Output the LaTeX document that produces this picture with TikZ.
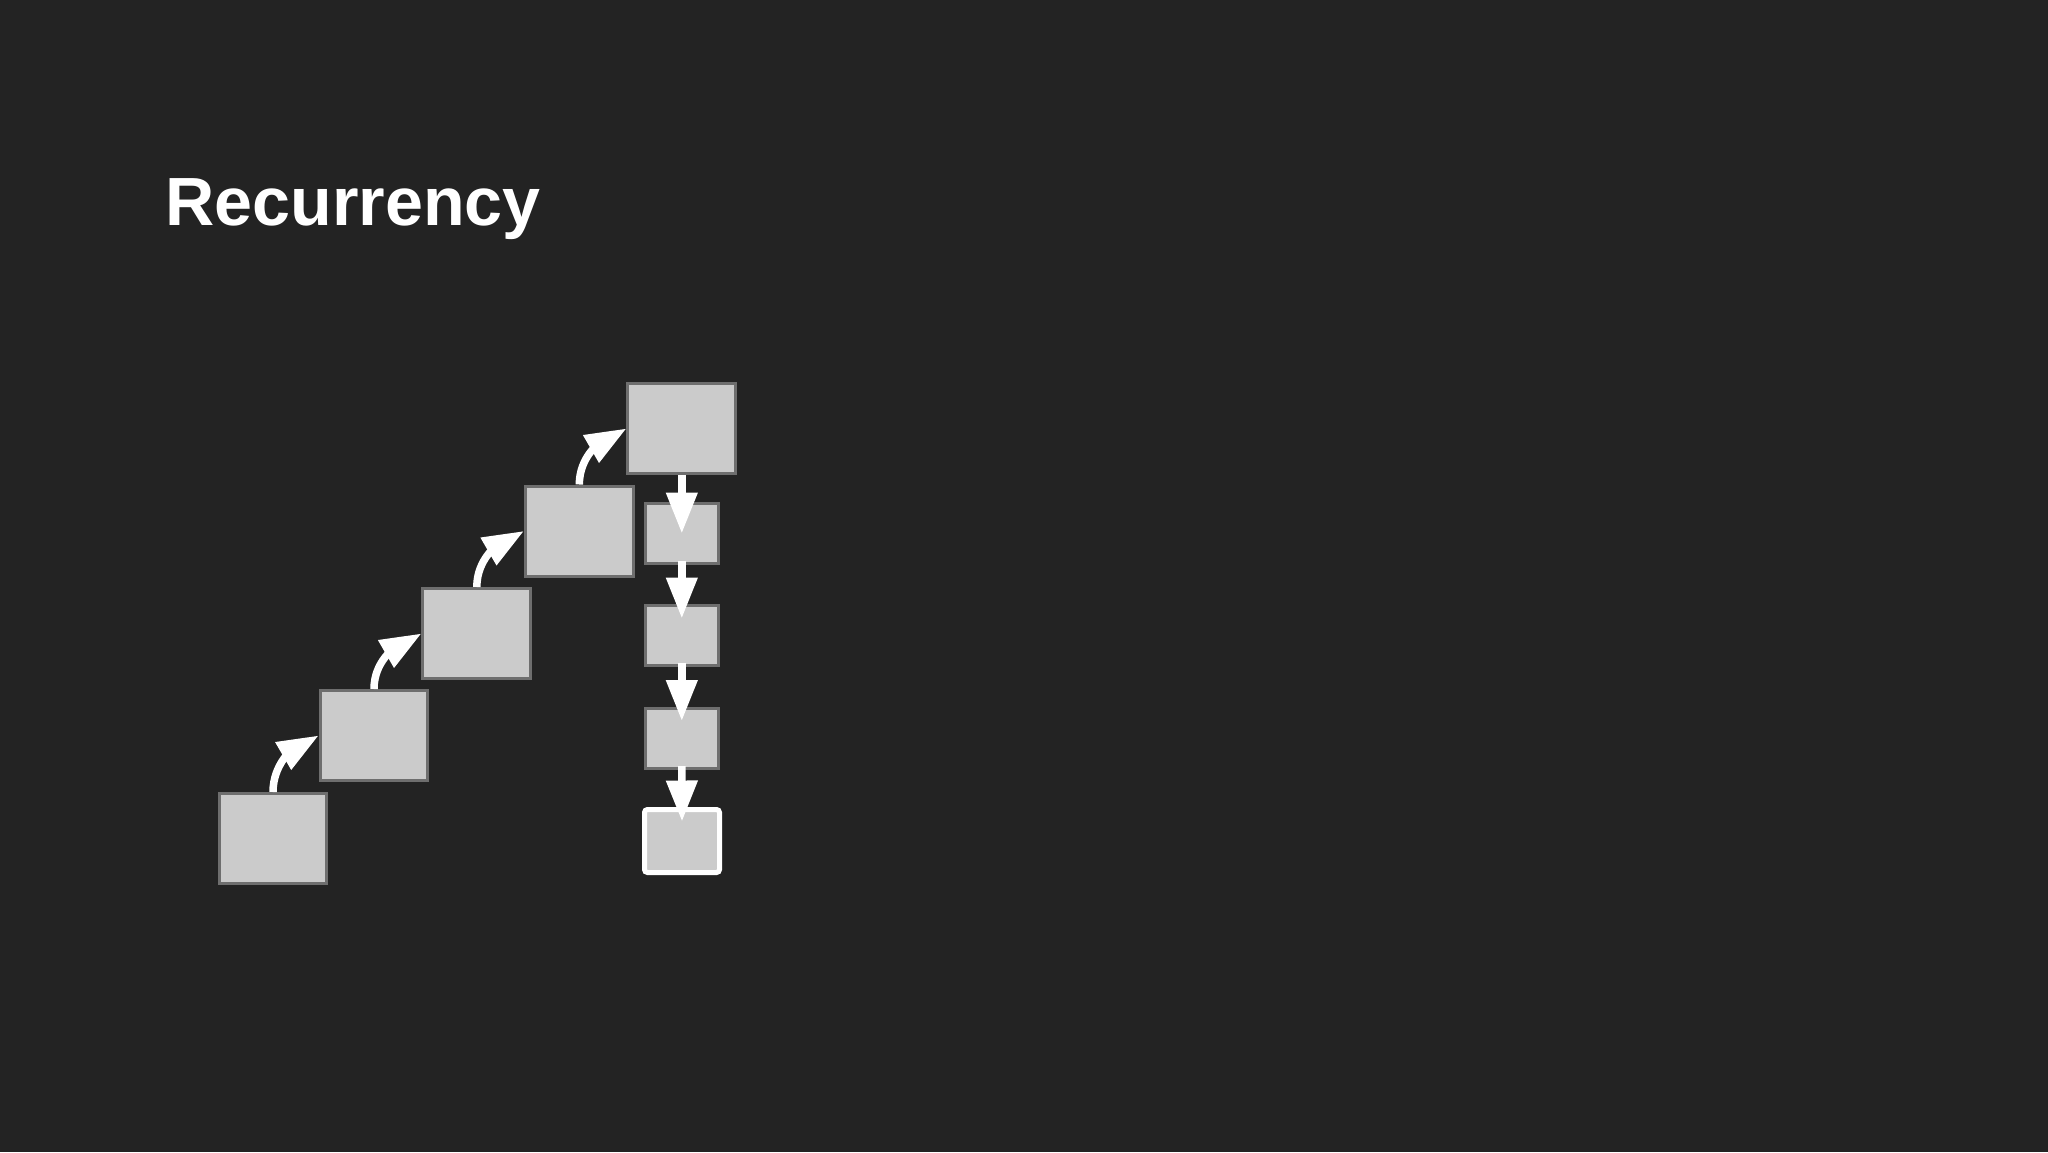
\documentclass[tikz,border=0pt]{standalone}
\usepackage{fontspec}
\setmainfont{Liberation Sans}
\usetikzlibrary{arrows.meta}
\definecolor{bg}{HTML}{232323}
\definecolor{boxfill}{HTML}{CBCBCB}
\definecolor{boxline}{HTML}{6E6E6E}
\begin{document}
\begin{tikzpicture}[x=0.5pt,y=-0.5pt,
  bigbox/.style={draw=boxline, fill=boxfill, line width=1.5pt, minimum width=53.85pt, minimum height=45pt, inner sep=0pt},
  smallbox/.style={draw=boxline, fill=boxfill, line width=1.5pt, minimum width=36.35pt, minimum height=30pt, inner sep=0pt},
  lastbox/.style={draw=white, fill=boxfill, line width=2.5pt, rounded corners=1.5pt, minimum width=37.5pt, minimum height=31.5pt, inner sep=0pt},
  flow/.style={draw=white, line width=3.75pt, -{Triangle[length=20.5pt,width=15pt]}},
]
\fill[bg] (0,0) rectangle (2048,1152);
\useasboundingbox (0,0) rectangle (2048,1152);

\node[anchor=base west, inner sep=0pt, text=white, font=\bfseries\fontsize{34.1}{40}\selectfont] (title) at (165,225) {Recurrency};

\node[bigbox] (b1) at (273,838.5) {};
\node[bigbox] (b2) at (374,735.5) {};
\node[bigbox] (b3) at (476.8,633.5) {};
\node[bigbox] (b4) at (579.3,531) {};
\node[bigbox] (b5) at (681.8,428.5) {};

\node[smallbox] (s1) at (681.8,533.5) {};
\node[smallbox] (s2) at (681.8,635.5) {};
\node[smallbox] (s3) at (681.8,738.5) {};
\node[lastbox] (s4) at (682,841) {};

\draw[flow] (b1.north) to[out=90,in=210] (b2.west);
\draw[flow] (b2.north) to[out=90,in=210] (b3.west);
\draw[flow] (b3.north) to[out=90,in=210] (b4.west);
\draw[flow] (b4.north) to[out=90,in=210] (b5.west);

\draw[flow] (b5.south) -- (s1.center);
\draw[flow] ([yshift=2pt]s1.south) -- ([yshift=-7.25pt]s2.north);
\draw[flow] ([yshift=2pt]s2.south) -- ([yshift=-7pt]s3.north);
\draw[flow] ([yshift=2pt]s3.south) -- ([yshift=-7.25pt]s4.north);
\end{tikzpicture}
\end{document}
